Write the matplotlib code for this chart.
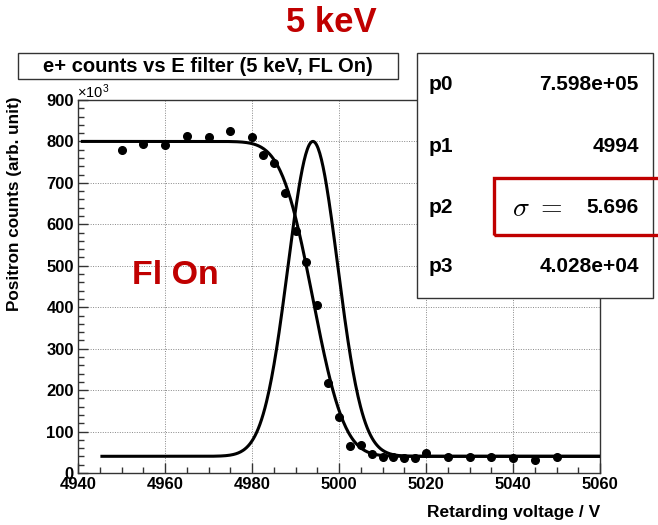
import math
import numpy as np
import matplotlib
matplotlib.use("Agg")
import matplotlib.pyplot as plt
from matplotlib.patches import Rectangle
from matplotlib.ticker import MultipleLocator

plt.rcParams['font.family'] = ['Liberation Sans', 'DejaVu Sans']
plt.rcParams['mathtext.fontset'] = 'cm'

# ---- data (counts in units of 10^3) ----
voltage = [4950, 4955, 4960, 4965, 4970, 4975, 4980, 4982.5, 4985, 4987.5,
           4990, 4992.5, 4995, 4997.5, 5000, 5002.5, 5005, 5007.5, 5010,
           5012.5, 5015, 5017.5, 5020, 5025, 5030, 5035, 5040, 5045, 5050]
counts_k = [780, 795, 792, 814, 811, 824, 811, 768, 747, 675,
            584, 508, 406, 216, 135, 66, 67, 45, 39,
            39, 36, 36, 49, 39, 39, 39, 37, 31, 39]

# fit parameters
par_names = ["p0", "p1", "p2", "p3"]
par_text = ["7.598e+05", "4994", "5.696", "4.028e+04"]
p0, p1, p2, p3 = 7.598e5, 4994.0, 5.696, 4.028e4
erfc_range = (4941.0, 5060.0)
gaus_range = (4945.5, 5060.0)

x_ticks = [4940, 4960, 4980, 5000, 5020, 5040, 5060]
y_ticks = [0, 100, 200, 300, 400, 500, 600, 700, 800, 900]

RED = '#C00000'

W, H = 658, 525
fig = plt.figure(figsize=(W / 100, H / 100), dpi=100)

def fx(px):
    return px / W

def fy(py):
    return 1 - py / H

ax = fig.add_axes([fx(78), fy(473), fx(600) - fx(78), fy(100) - fy(473)])
ax.set_xlim(x_ticks[0], x_ticks[-1])
ax.set_ylim(y_ticks[0], y_ticks[-1])
ax.set_xticks(x_ticks)
ax.set_yticks(y_ticks)
ax.xaxis.set_minor_locator(MultipleLocator(5))
ax.yaxis.set_minor_locator(MultipleLocator(20))
ax.tick_params(which='both', direction='in', top=False, right=False, colors='#333333',
               labelcolor='black', width=1)
ax.tick_params(which='major', length=7)
ax.tick_params(which='minor', length=4)
ax.tick_params(axis='x', labelsize=12, pad=3)
ax.tick_params(axis='y', labelsize=12, pad=3)
for lab in ax.get_xticklabels() + ax.get_yticklabels():
    lab.set_fontweight('bold')
for s in ax.spines.values():
    s.set_color('#333333')
    s.set_linewidth(1)
ax.grid(True, which='major', linestyle=(0, (1, 1.5)), color='#888888', linewidth=0.7)
ax.set_axisbelow(True)

# fit curves
xe = np.linspace(erfc_range[0], erfc_range[1], 600)
ye = np.array([0.5 * p0 * math.erfc((v - p1) / (math.sqrt(2) * p2)) + p3 for v in xe]) / 1e3
xg = np.linspace(gaus_range[0], gaus_range[1], 600)
yg = (p0 * np.exp(-0.5 * ((xg - p1) / p2) ** 2) + p3) / 1e3
ax.plot(xe, ye, color='black', linewidth=2.2, zorder=3)
ax.plot(xg, yg, color='black', linewidth=2.2, zorder=3)
ax.plot(voltage, counts_k, 'o', color='black', markersize=5.5, zorder=4)

# axis labels
ax.set_ylabel("Positron counts (arb. unit)", fontsize=12.3, fontweight='bold')
ax.yaxis.set_label_coords((22 - 78) / 522, (473 - 204) / 373)
fig.text(fx(600), fy(513), "Retarding voltage / V", ha='right', va='center',
         fontsize=12.5, fontweight='bold')
fig.text(fx(77), fy(92), "×10$^{\\mathregular{3}}$", ha='left', va='center', fontsize=10.5)

# title box
fig.add_artist(Rectangle((fx(18), fy(79)), fx(398) - fx(18), fy(53) - fy(79),
                         transform=fig.transFigure, facecolor='white',
                         edgecolor='#333333', linewidth=1))
fig.text(fx(208), fy(66), "e+ counts vs E filter (5 keV, FL On)", ha='center',
         va='center', fontsize=14.5, fontweight='bold')

# stats box
fig.add_artist(Rectangle((fx(417), fy(298)), fx(653) - fx(417), fy(53) - fy(298),
                         transform=fig.transFigure, facecolor='white',
                         edgecolor='#333333', linewidth=1, zorder=2))
rows_y = [85, 147, 207, 267]
for name, val, ry in zip(par_names, par_text, rows_y):
    fig.text(fx(429), fy(ry), name, ha='left', va='center', fontsize=15,
             fontweight='bold', zorder=3)
    fig.text(fx(639), fy(ry), val, ha='right', va='center', fontsize=15,
             fontweight='bold', zorder=3)
fig.text(fx(512), fy(209), r"$\sigma\ =$", ha='left', va='center', fontsize=20, zorder=3)
fig.add_artist(Rectangle((fx(494), fy(235)), fx(662) - fx(494), fy(178) - fy(235),
                         transform=fig.transFigure, facecolor='none',
                         edgecolor=RED, linewidth=2.4, zorder=4))

# red annotations
fig.text(fx(331), fy(23), "5 keV", ha='center', va='center', fontsize=25,
         fontweight='bold', color=RED)
fig.text(fx(175), fy(276), "Fl On", ha='center', va='center', fontsize=24.5,
         fontweight='bold', color=RED)

fig.savefig("out.png", dpi=100)
